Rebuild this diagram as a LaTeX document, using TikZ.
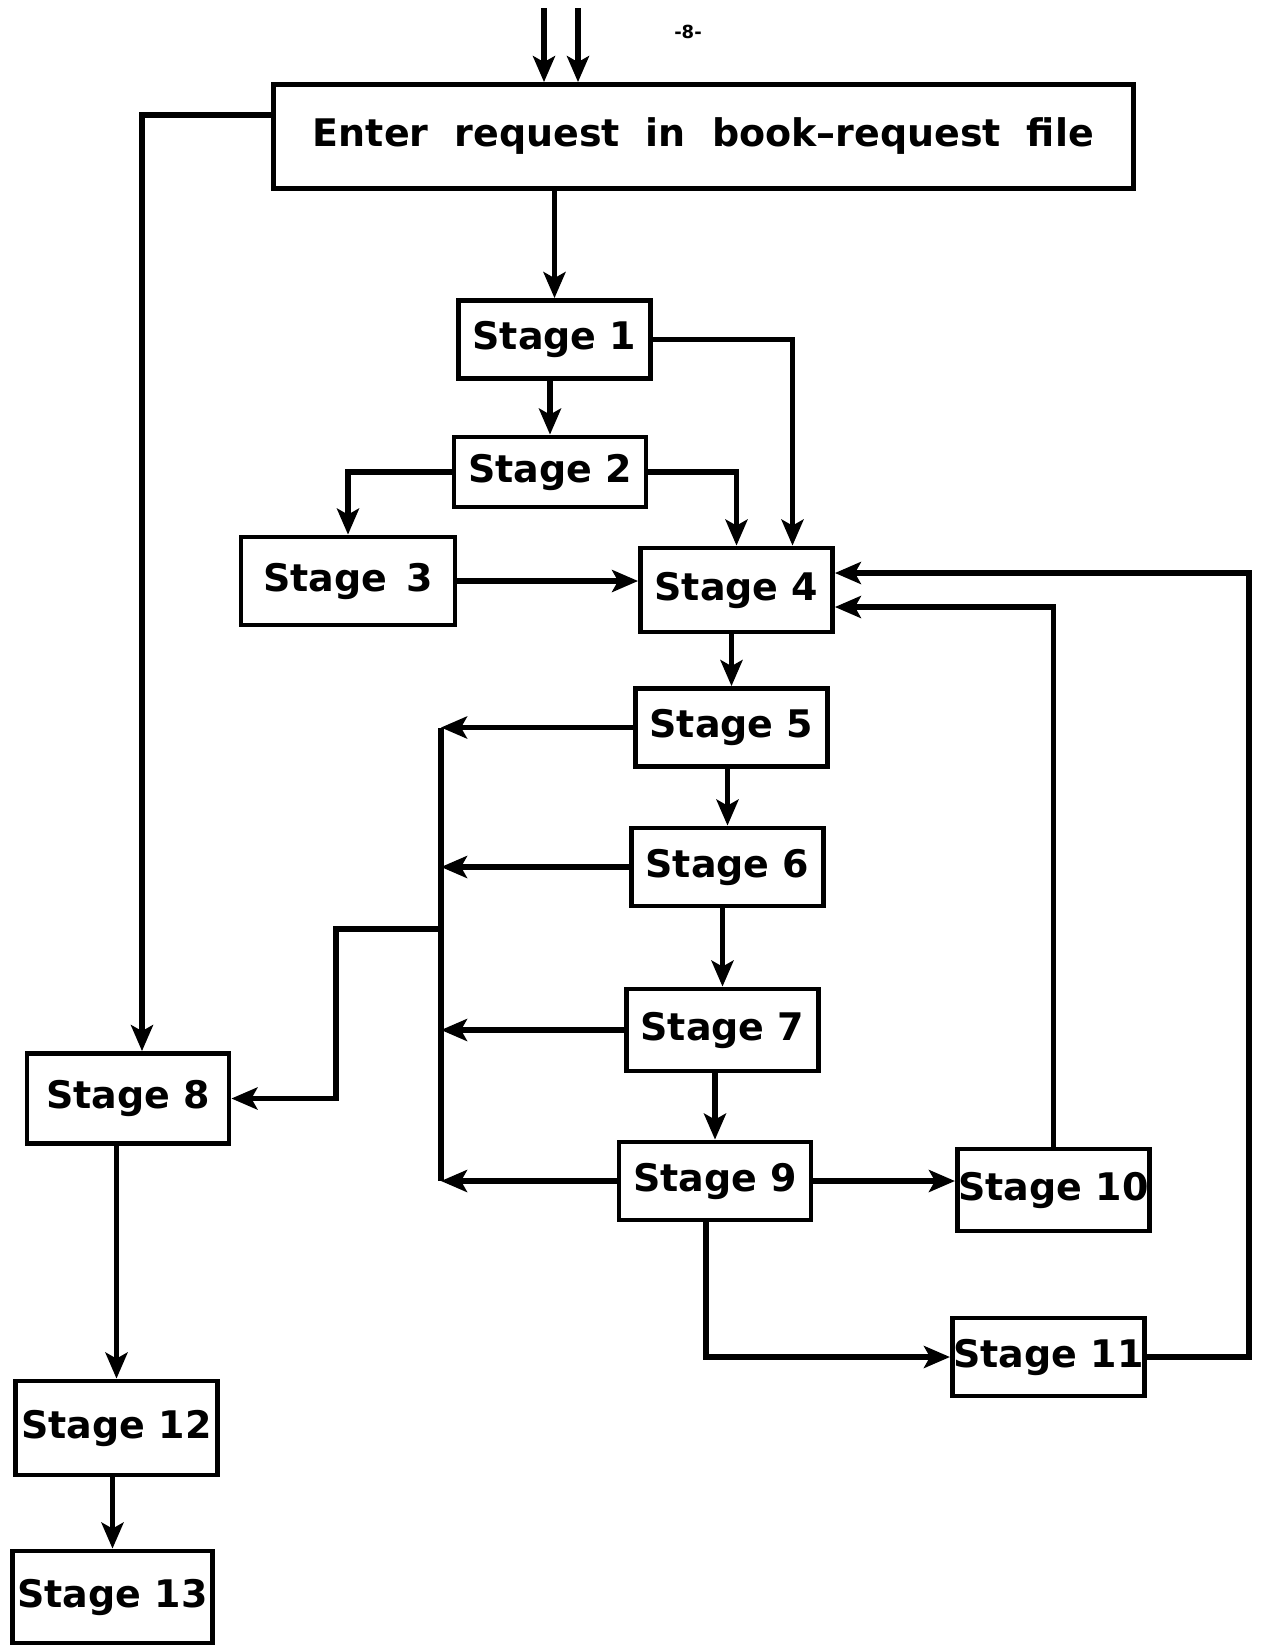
\documentclass[tikz,border=0pt]{standalone}
\usepackage{fontspec}
\setmainfont{DejaVu Sans}
\usetikzlibrary{arrows.meta}

\begin{document}
\begin{tikzpicture}[x=0.5pt, y=-0.5pt,
  font=\fontsize{19}{23}\selectfont\bfseries,
  stagebox/.style={draw, rectangle, line width=2.4pt, minimum width=96pt, minimum height=39pt, inner sep=0.5pt},
  flow/.style={line width=2.6pt, -{Stealth[length=13pt,width=11pt,inset=3pt]}},
  wire/.style={line width=2.6pt}]
\useasboundingbox (0,0) rectangle (1267,1646);

\node[font=\fontsize{9}{10}\selectfont\bfseries] (page) at (688,32) {-8-};
\node[stagebox, minimum width=430pt, minimum height=52pt] (enter) at (703.5,136.5)
  {\spaceskip=13pt\relax Enter request in book--request file};

\node[stagebox] (s1) at (554.5,339.5) {Stage 1};
\node[stagebox, minimum height=35pt] (s2) at (550,472) {Stage 2};
\node[stagebox, minimum width=107pt, minimum height=44pt] (s3) at (348,581) {Stage\hspace{0.5em}3};
\node[stagebox, minimum height=42pt] (s4) at (736.5,590) {Stage 4};
\node[stagebox] (s5) at (731.5,727.5) {Stage 5};
\node[stagebox] (s6) at (727.5,867) {Stage 6};
\node[stagebox, minimum height=41pt] (s7) at (722.5,1030) {Stage 7};
\node[stagebox] (s9) at (715,1181) {Stage 9};
\node[stagebox, minimum height=41pt] (s10) at (1053.5,1190) {Stage 10};
\node[stagebox] (s11) at (1048.5,1357) {Stage 11};
\node[stagebox, minimum width=101pt, minimum height=45pt] (s8) at (128,1098.5) {Stage 8};
\node[stagebox, minimum width=101pt, minimum height=47pt] (s12) at (116.5,1428) {Stage 12};
\node[stagebox, minimum width=100pt, minimum height=46pt] (s13) at (112.5,1597) {Stage 13};

\coordinate (in1) at (544,8);
\coordinate (in2) at (578,8);
\coordinate (bus) at (441,929);
\coordinate (jog) at (336,929);
\coordinate (rtrack) at (1249,0);

\draw[flow] (in1) -- (in1 |- enter.north);
\draw[flow] (in2) -- (in2 |- enter.north);
\draw[flow] (enter.south -| s1) -- (s1.north);
\draw[flow] ([yshift=10.75pt]enter.west) -| ([xshift=7pt]s8.north);

\draw[flow] (s1.south -| s2) -- (s2.north);
\draw[flow] (s1.east) -| ([xshift=28pt]s4.north);
\draw[flow] (s2.east) -| (s4.north);
\draw[flow] (s2.west) -| (s3.north);
\draw[flow] (s3.east) -- (s3.east -| s4.west);

\draw[flow] (s4.south -| s5) -- (s5.north);
\draw[flow] (s5.south -| s6) -- (s6.north);
\draw[flow] (s6.south -| s7) -- (s7.north);
\draw[flow] (s7.south -| s9) -- (s9.north);

\draw[wire] (s5.west -| bus) -- (s9.west -| bus);
\foreach \s in {s5,s6,s7,s9}
  \draw[flow] (\s.west) -- (\s.west -| bus);
\draw[flow] (bus) -- (jog) |- (s8.east);

\draw[flow] (s9.east) -- (s9.east -| s10.west);
\draw[flow] (s10.north) |- ([yshift=-8.5pt]s4.east);
\draw[flow] ([xshift=-4.5pt]s9.south) |- (s11.west);
\draw[flow] (s11.east) -- (s11.east -| rtrack) |- ([yshift=8.5pt]s4.east);

\draw[flow] (s8.south -| s12) -- (s12.north);
\draw[flow] (s12.south -| s13) -- (s13.north);
\end{tikzpicture}
\end{document}
